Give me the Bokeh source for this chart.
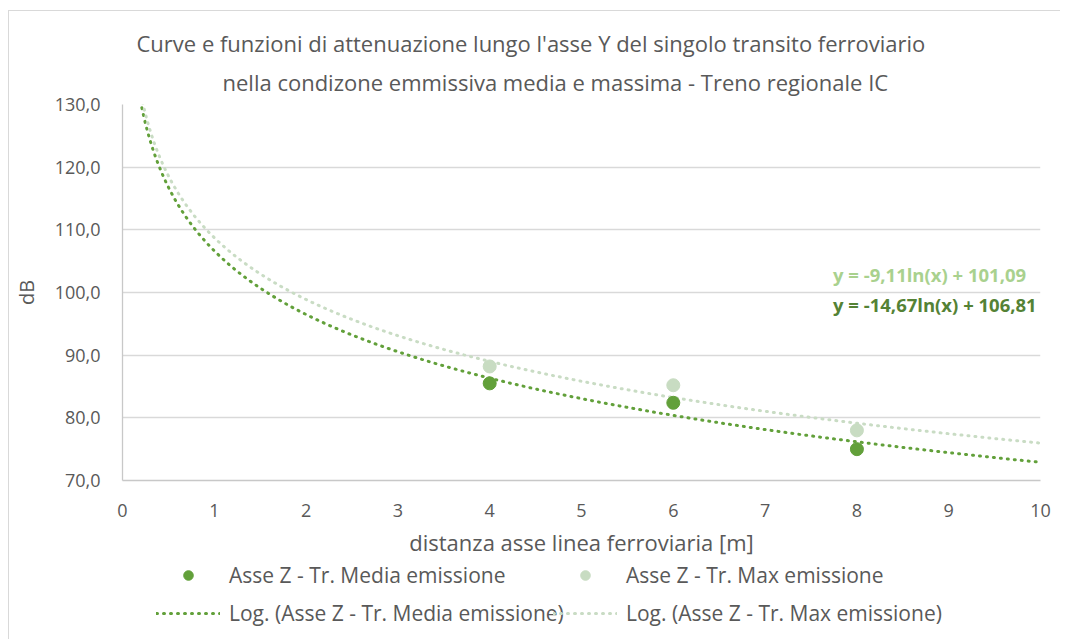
import numpy as np
from bokeh.plotting import figure
from bokeh.layouts import column
from bokeh.models import (ColumnDataSource, Legend, LegendItem, Label, Title,
                          CustomJSTickFormatter, Range1d, FixedTicker)
from bokeh.embed import file_html
from bokeh.resources import INLINE

# ---- data ----
distance = [4, 6, 8]
media_db = [85.5, 82.4, 75.0]
max_db = [88.2, 85.2, 78.0]
eq_media = "y = -14,67ln(x) + 106,81"
eq_max = "y = -9,11ln(x) + 101,09"
x_ticks = [0, 1, 2, 3, 4, 5, 6, 7, 8, 9, 10]
y_ticks = [70, 80, 90, 100, 110, 120, 130]
title_lines = ["Curve e funzioni di attenuazione lungo l'asse Y del singolo transito ferroviario",
               "nella condizone emmissiva media e massima   - Treno regionale IC"]
series_names = ["Asse Z - Tr. Media emissione", "Asse Z - Tr. Max emissione"]

FONT = "Open Sans"
TXT = "#595959"
DARK = "#62a03a"
LIGHT = "#c8dcc2"
LIGHT_LINE = "#c9dcc4"

# logarithmic trend lines fitted to the data
xs = np.linspace(0.05, 10, 500)
a1, b1 = np.polyfit(np.log(distance), media_db, 1)
a2, b2 = np.polyfit(np.log(distance), max_db, 1)
trend = ColumnDataSource(dict(x=xs, ym=a1 * np.log(xs) + b1, yx=a2 * np.log(xs) + b2))
pts = ColumnDataSource(dict(x=distance, m=media_db, mx=max_db))

p = figure(width=1051, height=548, output_backend="svg", toolbar_location=None,
           x_range=Range1d(0, 10), y_range=Range1d(70, 130),
           min_border_left=112, min_border_right=20, min_border_top=93, min_border_bottom=78)
p.outline_line_color = None

# titles
p.title.visible = False
p.add_layout(Title(text=title_lines[1], align="left", text_font=FONT, text_font_size="22px",
                   text_font_style="normal", text_color=TXT, standoff=15, offset=100), "above")
p.add_layout(Title(text=title_lines[0], align="left", text_font=FONT, text_font_size="22px",
                   text_font_style="normal", text_color=TXT, standoff=0, offset=14), "above")

# grids & axes
p.xgrid.grid_line_color = None
p.ygrid.grid_line_color = "#d9d9d9"
p.ygrid.grid_line_width = 1.3
p.yaxis.ticker = FixedTicker(ticks=y_ticks)
p.xaxis.ticker = FixedTicker(ticks=x_ticks)
p.yaxis.formatter = CustomJSTickFormatter(code="return tick.toFixed(1).replace('.', ',');")
for ax in (p.xaxis, p.yaxis):
    ax.axis_line_color = "#c8c8c8"
    ax.axis_line_width = 1.3
    ax.major_tick_line_color = None
    ax.minor_tick_line_color = None
    ax.major_label_text_font = FONT
    ax.major_label_text_font_size = "18px"
    ax.major_label_text_color = TXT
    ax.axis_label_text_font = FONT
    ax.axis_label_text_font_size = "22px"
    ax.axis_label_text_font_style = "normal"
    ax.axis_label_text_color = TXT
p.yaxis.axis_label = "dB"
p.yaxis.axis_label_text_font_size = "20px"
p.yaxis.major_label_standoff = 16
p.yaxis.axis_label_standoff = 12
p.xaxis.axis_label = "distanza asse linea ferroviaria [m]"
p.xaxis.major_label_standoff = 17
p.xaxis.axis_label_standoff = 7

# trend lines
line_kw = dict(line_width=3, line_dash="1 6", line_cap="round")
p.line("x", "ym", source=trend, line_color=DARK, **line_kw)
p.line("x", "yx", source=trend, line_color=LIGHT_LINE, **line_kw)
# points
p.scatter("x", "mx", source=pts, size=13, fill_color=LIGHT, line_color=LIGHT)
p.scatter("x", "m", source=pts, size=13, fill_color=DARK, line_color=DARK)

# equations
p.add_layout(Label(x=7.74, y=102.8, text=eq_max, text_font=FONT, text_font_size="18.5px",
                   text_font_style="bold", text_color="#a9d18e", text_baseline="middle"))
p.add_layout(Label(x=7.74, y=98.1, text=eq_media, text_font=FONT, text_font_size="18.5px",
                   text_font_style="bold", text_color="#548235", text_baseline="middle"))

# legend strip below the chart (its renderers fall outside its own ranges)
lg = figure(width=1051, height=80, output_backend="svg", toolbar_location=None,
            x_range=Range1d(0, 1), y_range=Range1d(0, 1),
            x_axis_location=None, y_axis_location=None,
            min_border_left=112, min_border_right=20, min_border_top=0, min_border_bottom=0)
lg.outline_line_color = None
lg.xgrid.visible = False
lg.ygrid.visible = False
g_media = lg.scatter("x", "m", source=pts, size=13, fill_color=DARK, line_color=DARK)
g_max = lg.scatter("x", "mx", source=pts, size=13, fill_color=LIGHT, line_color=LIGHT)
g_lmedia = lg.line("x", "ym", source=trend, line_color=DARK, **line_kw)
g_lmax = lg.line("x", "yx", source=trend, line_color=LIGHT_LINE, **line_kw)

leg_kw = dict(label_text_font=FONT, label_text_font_size="21px", label_text_color=TXT,
              glyph_width=64, glyph_height=24, label_height=24, label_standoff=9,
              spacing=10, border_line_color=None, background_fill_alpha=0,
              margin=0, padding=0)
leg1 = Legend(items=[LegendItem(label=series_names[0], renderers=[g_media]),
                     LegendItem(label="Log. (" + series_names[0] + ")", renderers=[g_lmedia])],
              location=(34, 12), **leg_kw)
leg2 = Legend(items=[LegendItem(label=series_names[1], renderers=[g_max]),
                     LegendItem(label="Log. (" + series_names[1] + ")", renderers=[g_lmax])],
              location=(431, 12), **leg_kw)
lg.add_layout(leg1, "center")
lg.add_layout(leg2, "center")

page = column(p, lg, spacing=0)
page.styles = {"margin-left": "8px", "margin-top": "10px",
               "border-left": "1px solid #d9d9d9", "border-top": "1px solid #d9d9d9"}

open("out.html", "w").write(file_html(page, INLINE))
